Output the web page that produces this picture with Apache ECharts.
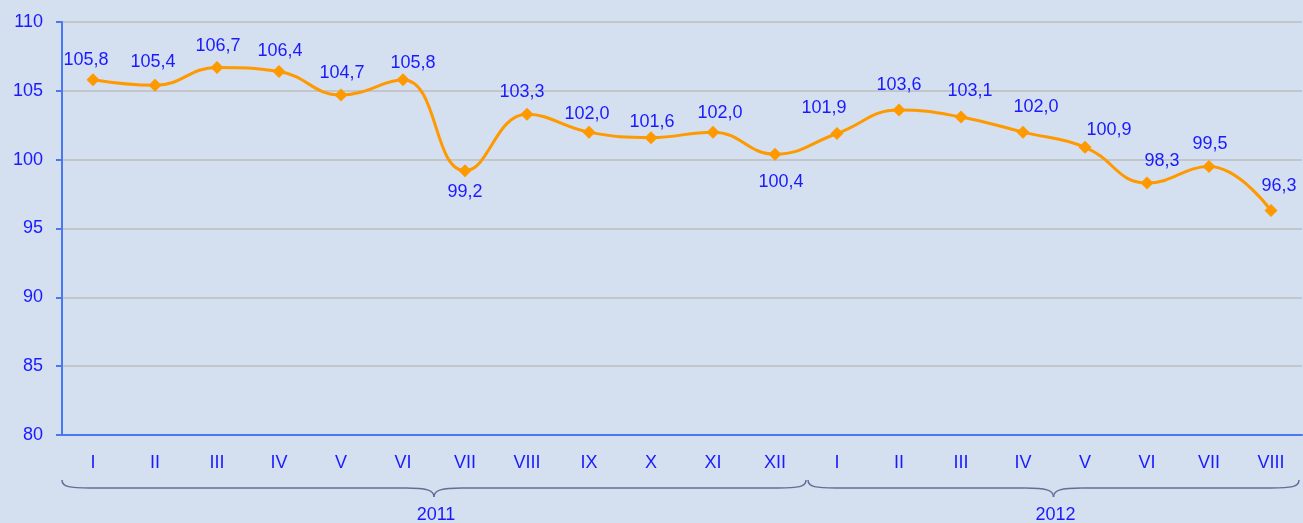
<!DOCTYPE html>
<html>
<head>
<meta charset="utf-8">
<script src="https://cdn.jsdelivr.net/npm/echarts@6/dist/echarts.min.js"></script>
<style>
  html, body { margin: 0; padding: 0; background: #d4dfef; }
  #main { width: 1303px; height: 523px; }
</style>
</head>
<body>
<div id="main"></div>
<script>
// month labels (2011: I-XII, 2012: I-VIII)
const months = ['I', 'II', 'III', 'IV', 'V', 'VI', 'VII', 'VIII', 'IX', 'X', 'XI', 'XII',
                'I', 'II', 'III', 'IV', 'V', 'VI', 'VII', 'VIII'];
const values = [105.8, 105.4, 106.7, 106.4, 104.7, 105.8, 99.2, 103.3, 102.0, 101.6, 102.0, 100.4,
                101.9, 103.6, 103.1, 102.0, 100.9, 98.3, 99.5, 96.3];
const years = ['2011', '2012'];
const yearSpan = [12, 8];
const yTicks = [80, 85, 90, 95, 100, 105, 110];

// label nudges [dx, dy] relative to a plain 'top' placement
const labelShift = [[-7, 1.5], [-2, -1.5], [1, 0.5], [1, 0.5], [1, -0.5], [10, 4.5], [0, 0], [-5, -0.5], [-2, 3.5], [1, 5.5],
                    [7, 2.5], [6, 0], [-13, -3.5], [0, -3.5], [9, -4.5], [13, -3.5], [24, 4.5], [15, -0.5], [1, -1.5], [8, -3.5]];
const belowIdx = { 6: 5.5, 11: 12.5 };

const myChart = echarts.init(document.getElementById('main'));
const blue = '#1a1aff';
const axisBlue = '#4a78f0';
const font = 'Liberation Sans';

const seriesData = values.map((v, i) => {
    const below = belowIdx[i] !== undefined;
    return {
        value: v,
        label: {
            position: below ? 'bottom' : 'top',
            distance: below ? belowIdx[i] : 6,
            offset: below ? [labelShift[i][0], 0] : labelShift[i]
        }
    };
});

const option = {
    backgroundColor: '#d4dfef',
    animation: false,
    grid: { left: 62, right: 1, top: 22, bottom: 88 },
    xAxis: {
        type: 'category',
        data: months,
        boundaryGap: true,
        axisLine: { lineStyle: { color: axisBlue, width: 2 } },
        axisTick: { lineStyle: { color: axisBlue, width: 2 }, length: 6 },
        axisLabel: { color: blue, fontSize: 18, fontFamily: font, margin: 19 },
        splitLine: { show: false }
    },
    yAxis: {
        type: 'value',
        min: yTicks[0],
        max: yTicks[yTicks.length - 1],
        interval: 5,
        axisLine: { show: true, lineStyle: { color: axisBlue, width: 2 } },
        axisTick: { show: true, lineStyle: { color: axisBlue, width: 2 }, length: 6 },
        axisLabel: { color: blue, fontSize: 18, fontFamily: font, margin: 19 },
        splitLine: { lineStyle: { color: '#bcbcbc', width: 1.5 } }
    },
    series: [{
        type: 'line',
        data: seriesData,
        smooth: 0.45,
        symbol: 'diamond',
        symbolSize: 13,
        lineStyle: { color: '#ff9900', width: 3 },
        itemStyle: { color: '#ff9900' },
        label: {
            show: true,
            color: blue,
            fontSize: 18,
            fontFamily: font,
            formatter: p => p.value.toFixed(1).replace('.', ',')
        }
    }]
};
myChart.setOption(option);

// year braces under the axis
function brace(x0, x1, y0, y1, y2) {
    const m = (x0 + x1) / 2;
    const r = 28;
    const st = { fill: 'none', stroke: '#6a6a98', lineWidth: 1.5 };
    const curve = (a, b, c, d, e, f, g, h) => ({
        type: 'bezierCurve',
        shape: { x1: a, y1: b, cpx1: c, cpy1: d, cpx2: e, cpy2: f, x2: g, y2: h },
        style: st
    });
    return [
        curve(x0, y0, x0, y1 - 1, x0 + 8, y1, x0 + r, y1),
        { type: 'line', shape: { x1: x0 + r, y1: y1, x2: m - r, y2: y1 }, style: st },
        curve(m - r, y1, m - 8, y1, m, y1 + 2, m, y2),
        curve(m, y2, m, y1 + 2, m + 8, y1, m + r, y1),
        { type: 'line', shape: { x1: m + r, y1: y1, x2: x1 - r, y2: y1 }, style: st },
        curve(x1 - r, y1, x1 - 8, y1, x1, y1 - 1, x1, y0)
    ];
}

const c0 = myChart.convertToPixel({ xAxisIndex: 0 }, 0);
const c1 = myChart.convertToPixel({ xAxisIndex: 0 }, 1);
const band = c1 - c0;
let elements = [];
let start = 0;
years.forEach((yr, k) => {
    const x0 = c0 - band / 2 + start * band + (k === 0 ? 0 : 2);
    const x1 = c0 - band / 2 + (start + yearSpan[k]) * band - (k === 0 ? 0 : 3);
    elements = elements.concat(brace(x0, x1, 480, 488, 497));
    elements.push({
        type: 'text',
        x: (x0 + x1) / 2 + 2,
        y: 515,
        style: {
            text: yr, fill: blue, fontSize: 18, fontFamily: font,
            align: 'center', verticalAlign: 'middle'
        }
    });
    start += yearSpan[k];
});
myChart.setOption({ graphic: { elements: elements } });
</script>
</body>
</html>
